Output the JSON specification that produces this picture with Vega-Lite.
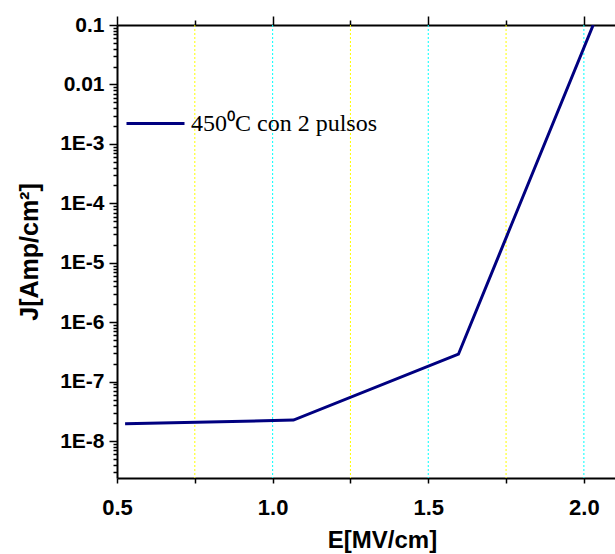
{
  "$schema": "https://vega.github.io/schema/vega-lite/v6.json",
  "width": 498,
  "height": 453,
  "autosize": {"type": "none"},
  "padding": {"left": 117, "top": 25, "right": 0, "bottom": 76},
  "background": "white",
  "config": {"font": "Liberation Sans", "view": {"stroke": null}},
  "datasets": {
    "curve": [
      {"E": 0.526, "J": 1.97e-8, "serie": "450⁰C con 2 pulsos"},
      {"E": 1.067, "J": 2.26e-8, "serie": "450⁰C con 2 pulsos"},
      {"E": 1.597, "J": 2.9e-7, "serie": "450⁰C con 2 pulsos"},
      {"E": 2.03, "J": 0.1, "serie": "450⁰C con 2 pulsos"}
    ],
    "grid": [
      {"E": 0.75, "kind": "minor"},
      {"E": 1.0, "kind": "major"},
      {"E": 1.25, "kind": "minor"},
      {"E": 1.5, "kind": "major"},
      {"E": 1.75, "kind": "minor"},
      {"E": 2.0, "kind": "major"}
    ]
  },
  "layer": [
    {
      "data": {"name": "grid"},
      "mark": {"type": "rule", "strokeWidth": 1, "strokeDash": [2, 2]},
      "encoding": {
        "x": {
          "field": "E", "type": "quantitative",
          "scale": {"domain": [0.5, 2.1], "nice": false, "zero": false},
          "axis": {
            "orient": "top",
            "values": [0.5, 0.75, 1, 1.25, 1.5, 1.75, 2],
            "labels": false,
            "tickSize": {"condition": {"test": "(datum.value*2) % 1 == 0", "value": 9}, "value": 5},
            "tickColor": "black", "tickWidth": 1.5,
            "domainColor": "black", "domainWidth": 2,
            "grid": false, "title": null
          }
        },
        "color": {
          "field": "kind", "type": "nominal",
          "scale": {"domain": ["major", "minor"], "range": ["#00ffff", "#ffff00"]},
          "legend": null
        }
      }
    },
    {
      "data": {"name": "curve"},
      "mark": {"type": "line", "strokeWidth": 3, "clip": true},
      "encoding": {
        "x": {
          "field": "E", "type": "quantitative",
          "axis": {
            "orient": "bottom",
            "values": [0.5, 0.75, 1, 1.25, 1.5, 1.75, 2],
            "labelExpr": "(datum.value*2) % 1 == 0 ? format(datum.value, '.1f') : ''",
            "labelFontSize": 22, "labelFontWeight": "bold", "labelColor": "black",
            "labelPadding": 14, "labelFlush": false, "labelOverlap": false,
            "tickSize": 5, "tickColor": "black", "tickWidth": 1.5,
            "domainColor": "black", "domainWidth": 2,
            "grid": false,
            "title": "E[MV/cm]", "titleFontSize": 24, "titleFontWeight": "bold", "titleColor": "black",
            "titleX": 265, "titlePadding": 10
          }
        },
        "y": {
          "field": "J", "type": "quantitative",
          "scale": {"type": "log", "domain": [2.4e-9, 0.1], "nice": false},
          "axis": {
            "orient": "left",
            "values": [3e-9, 4e-9, 5e-9, 6e-9, 7e-9, 8e-9, 9e-9,
              1e-8, 2e-8, 3e-8, 4e-8, 5e-8, 6e-8, 7e-8, 8e-8, 9e-8,
              1e-7, 2e-7, 3e-7, 4e-7, 5e-7, 6e-7, 7e-7, 8e-7, 9e-7,
              1e-6, 2e-6, 3e-6, 4e-6, 5e-6, 6e-6, 7e-6, 8e-6, 9e-6,
              1e-5, 2e-5, 3e-5, 4e-5, 5e-5, 6e-5, 7e-5, 8e-5, 9e-5,
              1e-4, 2e-4, 3e-4, 4e-4, 5e-4, 6e-4, 7e-4, 8e-4, 9e-4,
              1e-3, 2e-3, 3e-3, 4e-3, 5e-3, 6e-3, 7e-3, 8e-3, 9e-3,
              0.01, 0.02, 0.03, 0.04, 0.05, 0.06, 0.07, 0.08, 0.09, 0.1],
            "labelExpr": "abs(log(datum.value)/LN10 - round(log(datum.value)/LN10)) < 0.001 ? (datum.value > 0.05 ? '0.1' : (datum.value > 0.005 ? '0.01' : '1E' + round(log(datum.value)/LN10))) : ''",
            "labelFontSize": 21, "labelFontWeight": "bold", "labelColor": "black",
            "labelPadding": 5, "labelOverlap": false, "labelFlush": false,
            "tickSize": {"condition": {"test": "abs(log(datum.value)/LN10 - round(log(datum.value)/LN10)) < 0.001", "value": 8}, "value": 4},
            "tickColor": "black", "tickWidth": 1.5,
            "domainColor": "black", "domainWidth": 2,
            "grid": false,
            "title": "J[Amp/cm²]", "titleFontSize": 25, "titleFontWeight": "bold", "titleColor": "black",
            "titlePadding": 17
          }
        },
        "stroke": {
          "field": "serie", "type": "nominal",
          "scale": {"range": ["#000080"]},
          "legend": {
            "orient": "none", "legendX": 8, "legendY": 68, "title": null,
            "symbolType": "stroke", "symbolStrokeWidth": 3, "symbolSize": 3364,
            "labelFont": "Liberation Serif", "labelFontSize": 24, "labelColor": "black",
            "labelOffset": 5, "padding": 0, "labelLimit": 400
          }
        }
      }
    }
  ],
  "resolve": {"axis": {"x": "independent"}, "scale": {"color": "independent", "stroke": "independent"}}
}
